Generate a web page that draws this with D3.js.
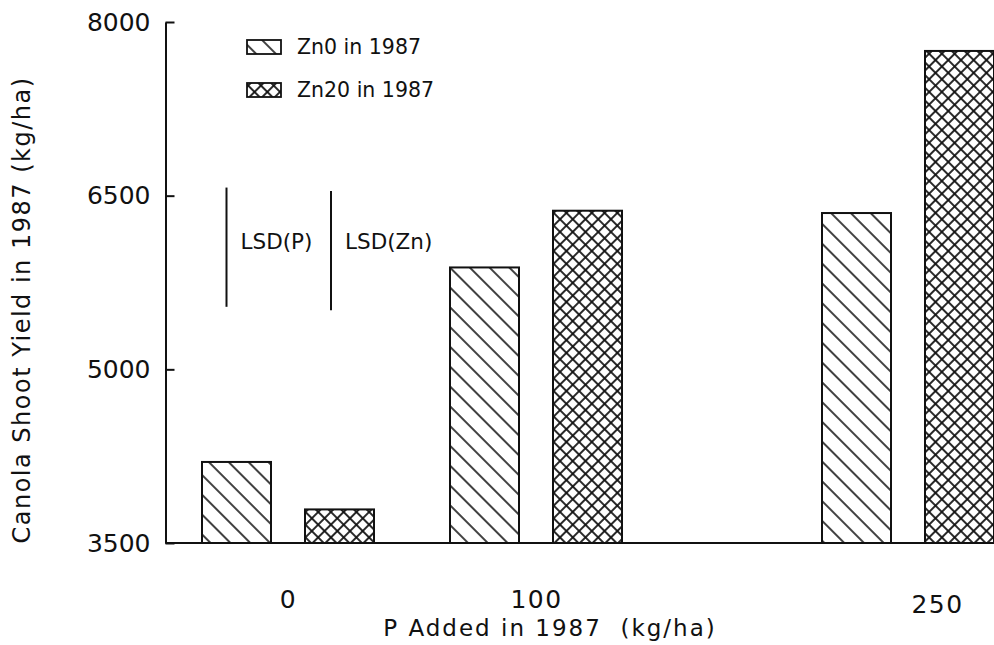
<!DOCTYPE html>
<html>
<head>
<meta charset="utf-8">
<script src="https://cdn.jsdelivr.net/npm/d3@7"></script>
<style>
  html, body { margin: 0; padding: 0; background: #fff; }
  svg { display: block; font-family: "DejaVu Sans", sans-serif; }
</style>
</head>
<body>
<svg id="chart" width="994" height="645"></svg>
<script>
// ---- data ----
const pLevels = [0, 100, 250];               // P added (kg/ha)
const seriesNames = ["Zn0 in 1987", "Zn20 in 1987"];
const zn0Yield = [4200, 5880, 6350];         // kg/ha
const zn20Yield = [3790, 6370, 7750];        // kg/ha
const yTicks = [3500, 5000, 6500, 8000];
const lsdLabels = ["LSD(P)", "LSD(Zn)"];
const lsdValues = [1030, 1030];              // length of LSD bars (kg/ha)
const lsdTops = [6570, 6540];                // where each LSD bar starts (kg/ha)

const svg = d3.select("#chart");
const ink = "#111";

// ---- scales ----
const x = d3.scaleLinear().domain([0, 250]).range([288, 908]);
const y = d3.scaleLinear().domain([3500, 8000]).range([543, 22]);
const barW = 69, barOff = 51.5;

// ---- patterns ----
const defs = svg.append("defs");
const diag = defs.append("pattern").attr("id", "diag")
  .attr("patternUnits", "userSpaceOnUse").attr("width", 14).attr("height", 14)
  .attr("patternTransform", "rotate(-45)");
diag.append("line").attr("x1", 3).attr("y1", 0).attr("x2", 3).attr("y2", 14)
  .attr("stroke", ink).attr("stroke-width", 1.6);

const cross = defs.append("pattern").attr("id", "cross")
  .attr("patternUnits", "userSpaceOnUse").attr("width", 9).attr("height", 9)
  .attr("patternTransform", "rotate(45)");
cross.append("line").attr("x1", 2).attr("y1", 0).attr("x2", 2).attr("y2", 9)
  .attr("stroke", ink).attr("stroke-width", 1.8);
cross.append("line").attr("x1", 0).attr("y1", 2).attr("x2", 9).attr("y2", 2)
  .attr("stroke", ink).attr("stroke-width", 1.8);

// ---- bars ----
const series = [
  { name: seriesNames[0], values: zn0Yield, fill: "url(#diag)", off: -barOff },
  { name: seriesNames[1], values: zn20Yield, fill: "url(#cross)", off: barOff }
];
series.forEach(s => {
  svg.append("g").selectAll("rect").data(pLevels).join("rect")
    .attr("x", (d) => x(d) + s.off - barW / 2)
    .attr("y", (d, i) => y(s.values[i]))
    .attr("width", barW)
    .attr("height", (d, i) => y(3500) - y(s.values[i]))
    .attr("fill", s.fill)
    .attr("stroke", ink).attr("stroke-width", 2);
});

// ---- baseline ----
svg.append("line")
  .attr("x1", 165.5).attr("x2", 994)
  .attr("y1", y(3500)).attr("y2", y(3500))
  .attr("stroke", ink).attr("stroke-width", 2);

// ---- y axis ----
const yAxis = svg.append("g").attr("transform", "translate(165.5,0)")
  .call(d3.axisLeft(y).tickValues(yTicks).tickFormat(d3.format("d"))
    .tickSizeInner(-9).tickSizeOuter(0).tickPadding(15));
yAxis.selectAll("path,line").attr("stroke", ink).attr("stroke-width", 2);
yAxis.selectAll("text").attr("font-size", 25).attr("fill", ink)
  .attr("font-family", "DejaVu Sans, sans-serif");

// ---- x axis (labels only) ----
const xAxis = svg.append("g").attr("transform", `translate(0,${y(3500)})`)
  .call(d3.axisBottom(x).tickValues(pLevels).tickFormat(d3.format("d"))
    .tickSize(0).tickPadding(47));
xAxis.select(".domain").remove();
xAxis.selectAll("text").attr("font-size", 25).attr("fill", ink)
  .attr("letter-spacing", 1.5)
  .attr("font-family", "DejaVu Sans, sans-serif");
xAxis.selectAll(".tick").filter(d => d === 250).select("text")
  .attr("dx", 29).attr("y", 52);

// ---- axis titles ----
svg.append("text")
  .attr("x", 550).attr("y", 628)
  .attr("text-anchor", "middle").attr("dominant-baseline", "central")
  .attr("font-size", 23).attr("fill", ink)
  .attr("letter-spacing", 2)
  .attr("xml:space", "preserve")
  .text("P Added in 1987  (kg/ha)");

svg.append("text")
  .attr("transform", "translate(22,310) rotate(-90)")
  .attr("text-anchor", "middle").attr("dominant-baseline", "central")
  .attr("font-size", 24).attr("fill", ink)
  .attr("letter-spacing", 1.5)
  .text("Canola Shoot Yield in 1987 (kg/ha)");

// ---- legend ----
const legend = svg.append("g");
series.forEach((s, i) => {
  const ly = 47 + i * 43;
  legend.append("rect")
    .attr("x", 247).attr("y", ly - 7).attr("width", 34).attr("height", 14)
    .attr("fill", s.fill).attr("stroke", ink).attr("stroke-width", 1.8);
  legend.append("text")
    .attr("x", 297).attr("y", ly)
    .attr("dominant-baseline", "central")
    .attr("font-size", 20.5).attr("fill", ink)
    .text(s.name);
});

// ---- LSD bars ----
const lsdX = [226.5, 331];
lsdLabels.forEach((lab, i) => {
  svg.append("line")
    .attr("x1", lsdX[i]).attr("x2", lsdX[i])
    .attr("y1", y(lsdTops[i])).attr("y2", y(lsdTops[i] - lsdValues[i]))
    .attr("stroke", ink).attr("stroke-width", 2);
  svg.append("text")
    .attr("x", lsdX[i] + 14).attr("y", 241)
    .attr("dominant-baseline", "central")
    .attr("font-size", 21.5).attr("fill", ink)
    .text(lab);
});
</script>
</body>
</html>
